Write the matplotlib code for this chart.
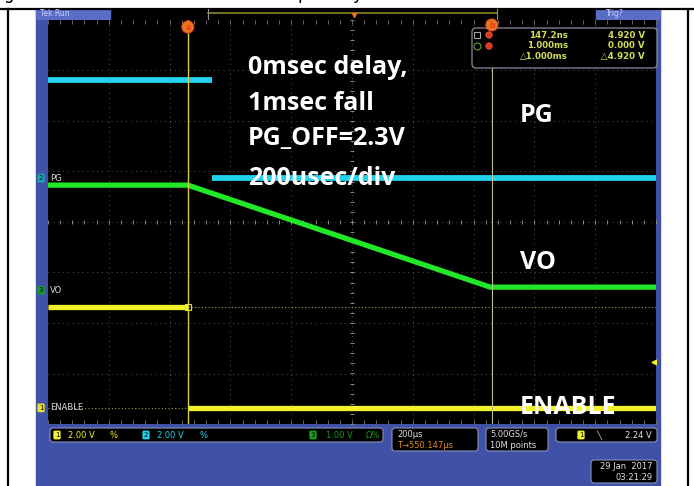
import numpy as np
import matplotlib
matplotlib.use("Agg")
import matplotlib.pyplot as plt
from matplotlib.patches import Rectangle, FancyBboxPatch

# Horizontal: 200 us/div, 10 divisions, trigger at t = 0
t_left = -460
us_per_div = 200

# Channel setup: volts/div on screen and ground marker position (div)
ch1_vdiv, ch1_pos = 2.46, -3.68   # ENABLE (yellow)
ch2_vdiv, ch2_pos = 2.0, 0.87     # PG (cyan)
ch3_vdiv, ch3_pos = 1.0, -1.35    # VO (green)

# Waveforms (time in us, volts)
enable_t = [-460, 0, 0, 1540]
enable_v = [4.92, 4.92, 0.0, 0.0]
pg_t = [-460, 79, 79, 1540]
pg_v = [3.88, 3.88, 0.0, 0.0]
vo_t = [-460, 0, 995, 1540]
vo_v = [2.08, 2.08, 0.06, 0.06]

# Cursors
cursor_t = [0, 1000]
cursor_v = [4.92, 0.0]
trig_level = 2.24

W, H = 694, 486
BLUE = "#3f52a8"
LBLUE = "#5a6ec8"
YEL = "#f2f22a"
CYAN = "#20d2ea"
GRN = "#22e628"
RO = "#d4dc5a"

fig = plt.figure(figsize=(W / 100, H / 100), dpi=100)
fig.patch.set_facecolor("white")


def pix_axes(z):
    a = fig.add_axes([0, 0, 1, 1], zorder=z)
    a.set_xlim(0, W)
    a.set_ylim(H, 0)
    a.axis("off")
    a.patch.set_alpha(0)
    return a


# ---------- frame / chrome ----------
bg = pix_axes(-1)
bg.plot([0, W], [9, 9], color="black", lw=1.6)
bg.plot([8, 8], [9, H], color="black", lw=1.6)
bg.plot([688, 688], [9, H], color="black", lw=1.6)
bg.add_patch(Rectangle((36, 9), 624, H - 9, color=BLUE))
bg.add_patch(Rectangle((110, 9), 486, 10, color="black"))
bg.add_patch(Rectangle((36, 9), 74, 10, color=LBLUE))
bg.add_patch(Rectangle((596, 9), 64, 10, color=LBLUE))
bg.text(40, 14, "Tek Run", color="#c8d0ff", fontsize=5.5, va="center")
bg.text(606, 14, "Trig?", color="#c8d0ff", fontsize=5.5, va="center")
bg.plot([208, 497], [13.5, 13.5], color="#8a8a20", lw=1.2)
bg.plot([208, 208], [9, 19], color="#909090", lw=0.8)
bg.plot([497, 497], [9, 19], color="#909090", lw=0.8)
bg.plot([354], [15], marker="v", color="#e07020", ms=3)

# caption line above the crop: only its descenders are visible
bg.text(3, -1, "g", fontsize=12, color="black", va="baseline")
bg.text(298, -1, "p", fontsize=12, color="black", va="baseline")
bg.text(352, -1, "y", fontsize=12, color="black", va="baseline")

# ---------- graticule ----------
gx = fig.add_axes([48 / W, (H - 424) / H, 608 / W, 404 / H], zorder=1)
gx.set_facecolor("black")
t_right = t_left + 10 * us_per_div
gx.set_xlim(t_left, t_right)
gx.set_ylim(-4, 4)
gx.set_xticks([])
gx.set_yticks([])
for s in gx.spines.values():
    s.set_visible(False)

for k in range(1, 10):
    gx.axvline(t_left + k * us_per_div, color="#555555", lw=0.7, ls=(0, (1, 4)))
for k in range(-3, 4):
    gx.axhline(k, color="#555555", lw=0.7, ls=(0, (1, 4)))
t_mid = t_left + 5 * us_per_div
minor_t = np.arange(t_left, t_right + 1, us_per_div / 5)
minor_y = np.arange(-4, 4.01, 0.2)
gx.plot(minor_t, np.zeros_like(minor_t), ls="none", marker="|", ms=3, color="#8a8a8a", mew=0.7)
gx.plot(np.full_like(minor_y, t_mid), minor_y, ls="none", marker="_", ms=3, color="#8a8a8a", mew=0.7)
gx.plot(minor_t, np.full_like(minor_t, 3.97), ls="none", marker="|", ms=2.5, color="#6a6a6a", mew=0.7)
gx.plot(minor_t, np.full_like(minor_t, -3.97), ls="none", marker="|", ms=2.5, color="#6a6a6a", mew=0.7)


def to_div(v, vdiv, pos):
    return pos + np.asarray(v, dtype=float) / vdiv


# waveform cursor levels (ch1)
for v in cursor_v:
    gx.axhline(to_div(v, ch1_vdiv, ch1_pos), color="#9a9a60", lw=0.8, ls=(0, (1, 2)))

# traces
pg_y = to_div(pg_v, ch2_vdiv, ch2_pos)
gx.plot(pg_t[:2], pg_y[:2], color=CYAN, lw=4.2, solid_capstyle="butt")
gx.plot(pg_t[2:], pg_y[2:], color=CYAN, lw=4.2, solid_capstyle="butt")
gx.plot(vo_t, to_div(vo_v, ch3_vdiv, ch3_pos), color=GRN, lw=3.8, solid_joinstyle="round")
en_y = to_div(enable_v, ch1_vdiv, ch1_pos)
gx.plot(enable_t[:2], en_y[:2], color=YEL, lw=3.8, solid_capstyle="butt")
gx.plot(enable_t[2:], en_y[2:], color=YEL, lw=3.8, solid_capstyle="butt")

# time cursors
gx.axvline(cursor_t[0], color="#d8d040", lw=1.0)
gx.axvline(cursor_t[1], color="#c0c090", lw=0.8)
gx.plot([cursor_t[0]], [to_div(cursor_v[0], ch1_vdiv, ch1_pos)], marker="s", ms=5,
        mfc="none", mec="#e0e060", mew=0.8)
gx.plot([t_right - 8], [to_div(trig_level, ch1_vdiv, ch1_pos)], marker="<", ms=3.5, color=YEL)

# ---------- overlay ----------
ov = pix_axes(5)


def ax_x(t):
    return 48 + (t - t_left) / (10 * us_per_div) * 608


def ax_y(d):
    return 222 - d * 50.5


# cursor flags
for t, s, yy in [(cursor_t[0], "a", 27), (cursor_t[1], "b", 25)]:
    ov.text(ax_x(t), yy, s, color="#ff3020", fontsize=5.5, fontweight="bold",
            ha="center", va="center",
            bbox=dict(boxstyle="circle,pad=0.2", fc="#e07a20", ec="#ff4020", lw=0.6))

# cursor readout
ov.add_patch(FancyBboxPatch((472, 28), 185, 40, boxstyle="round,pad=0,rounding_size=4",
                            fc="black", ec="#8a8aa0", lw=0.9))
ov.plot([477], [35], marker="s", ms=5, mfc="none", mec="#b0b0b0", mew=0.7)
ov.plot([477], [46], marker="o", ms=5, mfc="none", mec="#6a9a30", mew=0.8)
for yy, s in [(35, "a"), (46, "b")]:
    ov.text(489, yy, s, color="#ff3020", fontsize=4.5, ha="center", va="center",
            bbox=dict(boxstyle="circle,pad=0.12", fc="#d04020", ec="#ff5030", lw=0.5))
rows = [("147.2ns", "4.920 V"), ("1.000ms", "0.000 V"), ("\u25b31.000ms", "\u25b34.920 V")]
for (a, b), yy in zip(rows, [35, 46, 57]):
    ov.text(568, yy, a, color=RO, fontsize=6.2, fontweight="bold", ha="right", va="center")
    ov.text(645, yy, b, color=RO, fontsize=6.2, fontweight="bold", ha="right", va="center")

# channel markers on the left
for d, n, lab, fc in [(ch2_pos, "2", "PG", "#1aa8b8"), (ch3_pos, "3", "VO", "#1a9a2a"),
                      (ch1_pos, "1", "ENABLE", "#e8e020")]:
    yy = ax_y(d)
    ov.text(41, yy, n, color="black", fontsize=5, ha="center", va="center",
            bbox=dict(boxstyle="round,pad=0.2", fc=fc, ec="none"))
    ov.text(50, yy, lab, color="#d8d8d8", fontsize=6, ha="left", va="center")

# big annotations
big = dict(color="white", fontsize=18, fontweight="bold", family="Open Sans", va="center")
for s, yy in [("0msec delay,", 68), ("1msec fall", 103), ("PG_OFF=2.3V", 138), ("200usec/div", 178)]:
    ov.text(248, yy, s, **big)
ov.text(520, 115, "PG", **big)
ov.text(520, 262, "VO", **big)
ov.text(520, 407, "ENABLE", **big)

# ---------- bottom status bar ----------
def box(x0, y0, w, h):
    ov.add_patch(FancyBboxPatch((x0, y0), w, h, boxstyle="round,pad=0,rounding_size=3",
                                fc="black", ec="#8a90b8", lw=0.8))


sm = dict(fontsize=6, va="center")
box(50, 428, 333, 14)
ov.text(57, 435, "1", color="black", fontsize=5, ha="center", va="center",
        bbox=dict(boxstyle="round,pad=0.2", fc=YEL, ec="none"))
ov.text(68, 435, "2.00 V", color=YEL, **sm)
ov.text(110, 435, "%", color=YEL, **sm)
ov.text(146, 435, "2", color="black", fontsize=5, ha="center", va="center",
        bbox=dict(boxstyle="round,pad=0.2", fc=CYAN, ec="none"))
ov.text(157, 435, "2.00 V", color=CYAN, **sm)
ov.text(200, 435, "%", color=CYAN, **sm)
ov.text(313, 435, "3", color="black", fontsize=5, ha="center", va="center",
        bbox=dict(boxstyle="round,pad=0.2", fc="#18a020", ec="none"))
ov.text(326, 435, "1.00 V", color="#189a20", **sm)
ov.text(366, 435, "\u03a9%", color="#189a20", **sm)

box(392, 428, 86, 23)
ov.text(397, 434, "200\u00b5s", color="#e0e0e0", **sm)
ov.text(397, 445, "T\u2192550.147\u00b5s", color="#e08a20", **sm)

box(486, 428, 62, 23)
ov.text(490, 434, "5.00GS/s", color="#e0e0e0", **sm)
ov.text(490, 445, "10M points", color="#e0e0e0", **sm)

box(556, 428, 101, 14)
ov.text(581, 435, "1", color="black", fontsize=5, ha="center", va="center",
        bbox=dict(boxstyle="round,pad=0.2", fc=YEL, ec="none"))
ov.text(596, 435, "\u2572", color="#e0e0e0", **sm)
ov.text(652, 435, "%.2f V" % trig_level, color="#e0e0e0", ha="right", **sm)

box(591, 460, 66, 23)
ov.text(653, 466, "29 Jan  2017", color="#e0e0e0", ha="right", **sm)
ov.text(653, 477, "03:21:29", color="#e0e0e0", ha="right", **sm)

fig.savefig("out.png", dpi=100)
